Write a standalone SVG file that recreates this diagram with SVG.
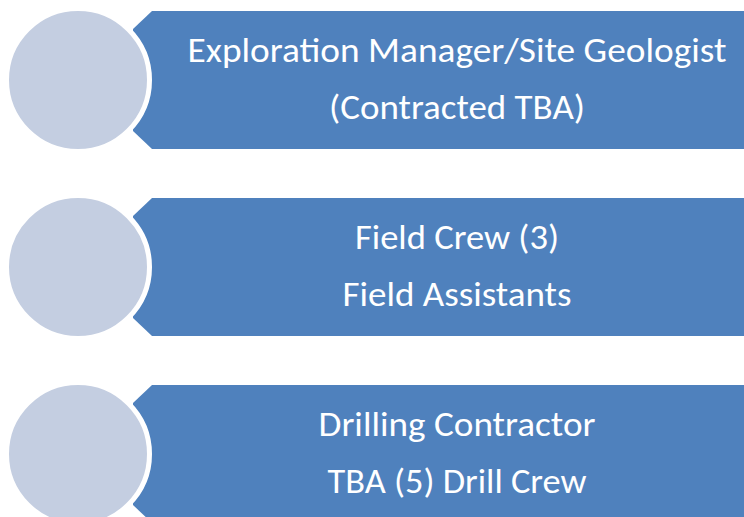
<svg xmlns="http://www.w3.org/2000/svg" width="744" height="517" viewBox="0 0 744 517">
  <style>
    .banner { fill: #4F81BD; }
    .disc { fill: #C4CEE1; stroke: #FFFFFF; stroke-width: 5; }
    .label { fill: #FFFFFF; font-family: Calibri, Carlito, "Open Sans", "Noto Sans", sans-serif; font-size: 35px; text-anchor: middle; }
  </style>
  <defs>
    <!-- banner with chamfered left end; row origin at its top edge -->
    <polygon id="bannerShape" points="152,0 760,0 760,138 152,138 133,120 133,18"/>
  </defs>
  <rect width="744" height="517" fill="#FFFFFF"/>

  <g id="row-exploration-manager">
    <use href="#bannerShape" class="banner" transform="translate(0,11)"/>
    <circle class="disc" cx="78" cy="80" r="71.5"/>
    <text class="label" x="457" y="62" textLength="539" lengthAdjust="spacingAndGlyphs">Exploration Manager/Site Geologist</text>
    <text class="label" x="457" y="119" textLength="256" lengthAdjust="spacingAndGlyphs">(Contracted TBA)</text>
  </g>

  <g id="row-field-crew">
    <use href="#bannerShape" class="banner" transform="translate(0,198)"/>
    <circle class="disc" cx="78" cy="267" r="71.5"/>
    <text class="label" x="457" y="249" textLength="204" lengthAdjust="spacingAndGlyphs">Field Crew (3)</text>
    <text class="label" x="457" y="306" textLength="229" lengthAdjust="spacingAndGlyphs">Field Assistants</text>
  </g>

  <g id="row-drilling-contractor">
    <use href="#bannerShape" class="banner" transform="translate(0,385)"/>
    <circle class="disc" cx="78" cy="454" r="71.5"/>
    <text class="label" x="457" y="436" textLength="277" lengthAdjust="spacingAndGlyphs">Drilling Contractor</text>
    <text class="label" x="457" y="493" textLength="259" lengthAdjust="spacingAndGlyphs">TBA (5) Drill Crew</text>
  </g>

  <g id="connectors"/>
</svg>
